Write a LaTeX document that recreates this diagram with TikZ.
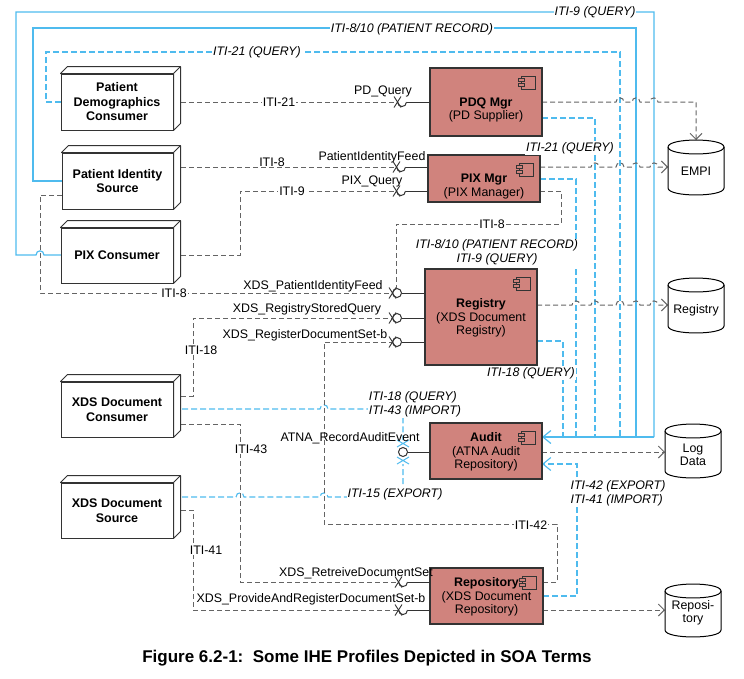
\documentclass[tikz,border=0pt]{standalone}
\usepackage{fontspec}
\setmainfont{Liberation Sans}
\usetikzlibrary{arrows.meta}
\definecolor{gline}{HTML}{646464}
\definecolor{bline}{HTML}{4FBBEE}
\definecolor{compfill}{HTML}{D0837D}
\definecolor{edgec}{HTML}{333333}
\newcommand\lblfont{\fontsize{12.4}{13.5}\selectfont}
\newcommand\boxfont{\bfseries\fontsize{12.5}{14.5}\selectfont}
\tikzset{
 gd/.style={draw=gline, line width=1pt, dash pattern=on 5pt off 3pt},
 bd/.style={draw=bline, line width=1.1pt, dash pattern=on 6pt off 3pt},
 bs/.style={draw=bline, line width=1.2pt},
 ga/.style={-{Straight Barb[length=6pt,width=12pt]}},
 ba/.style={-{Straight Barb[length=8pt,width=13pt]}},
 lbl/.style={font=\lblfont, inner sep=1pt, text=black},
 wl/.style={lbl, fill=white},
 il/.style={lbl, fill=white, font=\lblfont\itshape},
 hr/.style 2 args={insert path={-- ({#1-4},#2) .. controls ({#1-4},{#2-5.5}) and ({#1+4},{#2-5.5}) .. ({#1+4},#2)}},
 box3/.style={draw=edgec, fill=white, line width=1pt, inner sep=0pt, font=\boxfont, align=center},
 compbox/.style={draw=edgec, fill=compfill, line width=1.2pt, inner sep=0pt},
 comptext/.style={font=\lblfont, align=center, inner sep=0pt},
 conn/.style={draw=edgec, line width=1pt},
 cyl/.style={draw=black, fill=white, line width=1pt},
}
\newcommand\faces[1]{%
 \filldraw[draw=edgec, fill=white, line width=1pt, line join=round] (#1.north west) -- ++(7,-7) -- ([shift={(7,-7)}]#1.north east) -- ([shift={(7,-7)}]#1.south east) -- (#1.south east) -- (#1.north east) -- cycle;
 \draw[draw=edgec, line width=1pt] (#1.north east) -- ++(7,-7);}
\newcommand\cicon[2]{%
 \filldraw[draw=edgec, fill=compfill, line width=0.8pt] ({#1-21},{#2+8}) rectangle ({#1-7},{#2+21});
 \filldraw[draw=edgec, fill=compfill, line width=0.8pt] ({#1-24},{#2+10.5}) rectangle ({#1-18},{#2+13.5});
 \filldraw[draw=edgec, fill=compfill, line width=0.8pt] ({#1-24},{#2+15.5}) rectangle ({#1-18},{#2+18.5});}
\newcommand\sockfull[2]{\draw[conn, fill=white] (#1,#2) circle[radius=4.5pt];}
\newcommand\sockhalf[2]{\draw[conn] ({#1-4.5},#2) .. controls ({#1-4.5},{#2+6}) and ({#1+4.5},{#2+6}) .. ({#1+4.5},#2);}
\newcommand\xh[3][edgec]{\draw[draw=#1, line width=0.9pt] ({#2-3.5},{#3-5.5}) -- ({#2+3.5},{#3+5.5}) ({#2-3.5},{#3+5.5}) -- ({#2+3.5},{#3-5.5});}
\newcommand\xv[3][edgec]{\draw[draw=#1, line width=1pt] ({#2-6},{#3-3.5}) -- ({#2+6},{#3+3.5}) ({#2-6},{#3+3.5}) -- ({#2+6},{#3-3.5});}
\newcommand\cylinder[5]{% name, x1, x2, ytop, ybot
 \filldraw[cyl] (#2,{#4+7}) -- (#2,{#5-7}) .. controls (#2,{#5+2.3}) and (#3,{#5+2.3}) .. (#3,{#5-7}) -- (#3,{#4+7}) .. controls (#3,{#4-2.3}) and (#2,{#4-2.3}) .. (#2,{#4+7}) -- cycle;
 \draw[cyl, fill=none] (#2,{#4+7}) .. controls (#2,{#4+16.3}) and (#3,{#4+16.3}) .. (#3,{#4+7});
 \coordinate (#1) at ({(#2+#3)/2},{(#4+#5)/2});}
\begin{document}
\begin{tikzpicture}[x=1pt,y=-1pt]
\useasboundingbox (0,0) rectangle (744,678);
\frenchspacing
% ---------- blue connectors ----------
\draw[bs] (61,255) -- (44,255) .. controls (44,249.5) and (36,249.5) .. (36,255) -- (16,255) -- (16,12) -- (654,12) -- (654,437);
\draw[bs] (62,181) -- (33,181) -- (33,28) -- (636,28) -- (636,437);
\draw[bd] (61,102) -- (46,102) -- (46,52) -- (620,52) -- (620,437);
\draw[bd] (542,118) -- (595,118) -- (595,437);
\draw[bd] (540,179) -- (576,179) -- (576,437);
\draw[bd] (537,341) -- (563,341) -- (563,437);
\draw[bs,ba] (654,437) -- (542,437);
\draw[bd,ba] (543,596) -- (577,596) -- (577,464) -- (542,464);
\draw[bd] (173,409) [hr={324}{409}] -- (403,409) -- (403,440);
\draw[bd] (173,497) [hr={240}{497}] [hr={324}{497}] -- (403,497) -- (403,464);
% ---------- grey connectors ----------
\draw[gd] (173,102) -- (397.5,102);
\draw[gd] (173,167) -- (396.5,167);
\draw[gd] (173,255) -- (240,255) -- (240,191) -- (396.5,191);
\draw[gd] (62,195) -- (40,195) -- (40,293) -- (392.5,293);
\draw[gd] (540,191) -- (561,191) -- (561,224) -- (396,224) -- (396,288);
\draw[gd,ga] (542,102) [hr={620}{102}] [hr={636}{102}] [hr={654}{102}] -- (696,102) -- (696,140);
\draw[gd,ga] (540,167) [hr={595}{167}] [hr={620}{167}] [hr={636}{167}] [hr={654}{167}] -- (668,167);
\draw[gd,ga] (537,305) [hr={576}{305}] [hr={595}{305}] [hr={620}{305}] [hr={636}{305}] [hr={654}{305}] -- (668,305);
\draw[gd,ga] (542,452) -- (665,452);
\draw[gd,ga] (543,610) -- (665,610);
\draw[gd] (173,396) -- (193,396) -- (193,318) -- (392.5,318);
\draw[gd] (543,582) -- (557,582) -- (557,524) -- (324,524) -- (324,342) -- (392.5,342);
\draw[gd] (173,424) -- (240,424) -- (240,582) -- (398.5,582);
\draw[gd] (173,510) -- (193,510) -- (193,610) -- (398.5,610);
% ---------- actor boxes ----------
\node[box3, minimum width=112pt, minimum height=56pt] (pdc) at (117,102) {Patient\\Demographics\\Consumer};
\faces{pdc}
\node[box3, minimum width=111pt, minimum height=56pt] (pis) at (117.5,181) {Patient Identity\\Source};
\faces{pis}
\node[box3, minimum width=112pt, minimum height=55pt] (pixc) at (117,255.5) {PIX Consumer};
\faces{pixc}
\node[box3, minimum width=112pt, minimum height=55pt] (xdc) at (117,409.5) {XDS Document\\Consumer};
\faces{xdc}
\node[box3, minimum width=112pt, minimum height=55pt] (xds) at (117,510.5) {XDS Document\\Source};
\faces{xds}
% ---------- components ----------
\node[compbox, minimum width=112pt, minimum height=68pt] (pdq) at (486,102) {};
\cicon{542}{68}
\node[comptext] (pdqt) at (486,110) {\textbf{PDQ Mgr}\\(PD Supplier)};
\node[compbox, minimum width=112pt, minimum height=47pt] (pix) at (484,178.5) {};
\cicon{540}{155}
\node[comptext] (pixt) at (484,186.5) {\textbf{PIX Mgr}\\(PIX Manager)};
\node[compbox, minimum width=112pt, minimum height=96pt] (reg) at (481,317) {};
\cicon{537}{269}
\node[comptext] (regt) at (481,318) {\textbf{Registry}\\(XDS Document\\Registry)};
\node[compbox, minimum width=112pt, minimum height=56pt] (aud) at (486,451) {};
\cicon{542}{423}
\node[comptext] (audt) at (486,452) {\textbf{Audit}\\(ATNA Audit\\Repository)};
\node[compbox, minimum width=113pt, minimum height=56pt] (rep) at (486.5,596) {};
\cicon{543}{568}
\node[comptext] (rept) at (486.5,597) {\textbf{Repository}\\(XDS Document\\Repository)};
% ---------- databases ----------
\cylinder{empi}{668}{724}{140}{195}
\node[lbl] at (696,171) {EMPI};
\cylinder{regdb}{668}{724}{278}{333}
\node[lbl] at (696,310) {Registry};
\cylinder{logdb}{665}{721}{424}{478}
\node[lbl, align=center] at (693,455) {Log\\Data};
\cylinder{repdb}{665}{721}{584}{637}
\node[lbl, align=center] at (693,613) {Reposi-\\tory};
% ---------- sockets ----------
\draw[conn] (406.5,102) -- (430,102);
\draw[conn] (405.5,167) -- (428,167);
\draw[conn] (405.5,191) -- (428,191);
\draw[conn] (401.5,293) -- (425,293);
\draw[conn] (401.5,318) -- (425,318);
\draw[conn] (401.5,342) -- (425,342);
\draw[conn] (407,452) -- (430,452);
\draw[conn] (407.5,582) -- (430,582);
\draw[conn] (407.5,610) -- (430,610);
\sockhalf{402}{102} \xh{397.5}{102}
\sockhalf{401}{167} \xh{396.5}{167}
\sockhalf{401}{191} \xh{396.5}{191}
\sockfull{397}{293} \xh{392.5}{293}
\sockfull{397}{318} \xh{392.5}{318}
\sockfull{397}{342} \xh{392.5}{342}
\sockfull{403}{452} \xv[bline]{403}{443.5} \xv[bline]{403}{460.5}
\sockhalf{403}{582} \xh{398.5}{582}
\sockhalf{403}{610} \xh{398.5}{610}
% ---------- grey labels ----------
\node[wl] at (279,102) {ITI-21};
\node[lbl] at (383,91) {PD\_Query};
\node[wl] at (272,162) {ITI-8};
\node[lbl] at (372,157) {PatientIdentityFeed};
\node[lbl] at (372,181) {PIX\_Query};
\node[wl] at (292,191) {ITI-9};
\node[wl] at (492,224) {ITI-8};
\node[lbl] at (313,286) {XDS\_PatientIdentityFeed};
\node[wl] at (174,293) {ITI-8};
\node[lbl] at (307,309) {XDS\_RegistryStoredQuery};
\node[lbl] at (305,335) {XDS\_RegisterDocumentSet-b};
\node[wl] at (201,350) {ITI-18};
\node[lbl] at (350,438) {ATNA\_RecordAuditEvent};
\node[wl] at (251,449) {ITI-43};
\node[wl] at (531,525) {ITI-42};
\node[lbl] at (356,573) {XDS\_RetreiveDocumentSet};
\node[lbl] at (311,599) {XDS\_ProvideAndRegisterDocumentSet-b};
\node[wl] at (206,550) {ITI-41};
% ---------- blue labels ----------
\node[il] at (595,12) {ITI-9 (QUERY)};
\node[il] at (412,29) {ITI-8/10 (PATIENT RECORD)};
\node[il] at (257,52) {ITI-21 (QUERY)};
\node[il] at (570,148) {ITI-21 (QUERY)};
\node[il, align=center] at (497,252.5) {ITI-8/10 (PATIENT RECORD)\\ITI-9 (QUERY)};
\node[il] at (531,373) {ITI-18 (QUERY)};
\node[il, align=left] at (415,404.5) {ITI-18 (QUERY)\\ITI-43 (IMPORT)};
\node[il] at (395,494) {ITI-15 (EXPORT)};
\node[il, align=left] at (618,493.5) {ITI-42 (EXPORT)\\ITI-41 (IMPORT)};
% ---------- title ----------
\node[font=\bfseries\fontsize{17}{20}\selectfont, inner sep=0pt] (title) at (367,658) {Figure 6.2-1:~~Some IHE Profiles Depicted in SOA Terms};
\end{tikzpicture}
\end{document}
